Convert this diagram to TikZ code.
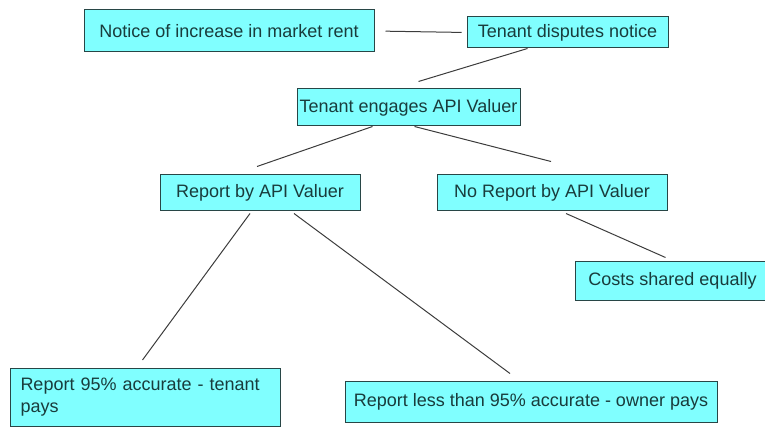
\documentclass[tikz,border=0pt]{standalone}
\usepackage{fontspec}
\setmainfont{Liberation Sans}
\usepackage{tikz}
\usetikzlibrary{calc}

\definecolor{boxfill}{RGB}{128,255,255}
\definecolor{boxline}{RGB}{40,70,70}
\definecolor{boxtext}{RGB}{25,60,60}
\definecolor{linkgray}{RGB}{60,60,60}

\begin{document}
\begin{tikzpicture}[x=1pt,y=-1pt,
		box/.style={draw=boxline, fill=boxfill, text=boxtext, line width=1pt, inner sep=0pt,
			font=\fontsize{18}{22}\selectfont, align=center},
		link/.style={draw=linkgray, line width=1pt}]
					% Define the frame
					\useasboundingbox (0,0) rectangle (765,430);
					\clip (0,0) rectangle (765,430);
					% Add the boxes
					\node[box, minimum width=290pt, minimum height=42pt] (notice) at (229,31) {Notice of increase in market rent};
					\node[box, minimum width=201pt, minimum height=31pt] (dispute) at (567.5,32.5) {Tenant disputes notice};
					\node[box, minimum width=223pt, minimum height=37pt] (engage) at (408.5,107.5) {Tenant engages API Valuer};
					\node[box, minimum width=200pt, minimum height=36pt] (report) at (260,193) {Report by API Valuer};
					\node[box, minimum width=230pt, minimum height=36pt] (noreport) at (552,193) {No Report by API Valuer};
					\node[box, minimum width=195pt, minimum height=39pt] (costs) at (672.5,280.5) {Costs shared equally};
					\node[box, anchor=north west, text width=250pt, inner xsep=10pt, align=left, minimum height=58pt] (tenantpays) at (10,368) {Report 95\% accurate - tenant\\pays};
					\node[box, minimum width=372pt, minimum height=41pt] (ownerpays) at (531,401.5) {Report less than 95\% accurate - owner pays};
					% Connect the boxes
					\draw[link, shorten <=11pt, shorten >=5pt] (notice.east) -- (dispute.west);
					\draw[link] ([xshift=-40pt]dispute.south) -- ([xshift=10pt,yshift=7pt]engage.north);
					\draw[link] ([xshift=-36pt]engage.south) -- ([xshift=-3pt,yshift=8pt]report.north);
					\draw[link] ([xshift=6pt]engage.south) -- ([xshift=-1pt,yshift=13pt]noreport.north);
					\draw[link] ([xshift=-10pt,yshift=-2pt]report.south) -- ([xshift=-3pt,yshift=8pt]tenantpays.north);
					\draw[link] ([xshift=34pt,yshift=-2pt]report.south) -- ([xshift=-21pt,yshift=7pt]ownerpays.north);
					\draw[link] ([xshift=14pt,yshift=-2pt]noreport.south) -- ([xshift=-7pt,yshift=3pt]costs.north);
				\end{tikzpicture}
\end{document}
